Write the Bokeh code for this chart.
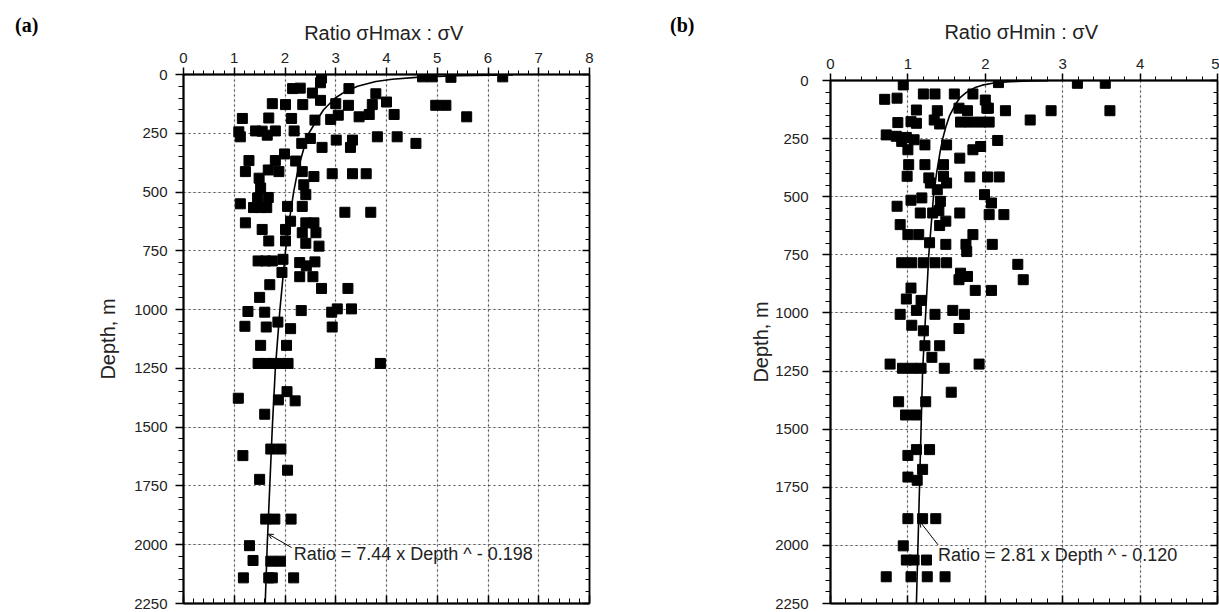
from bokeh.plotting import figure
from bokeh.models import (Range1d, LinearAxis, FixedTicker, Label, Arrow, OpenHead,
                          Grid, CustomJSTickFormatter, Div)
from bokeh.layouts import row
from bokeh.embed import file_html
from bokeh.resources import INLINE

# ---------------- data: panel (a)  sigma_Hmax : sigma_V ----------------
depth_a = [15, 35, 60, 58, 79, 110,
           10, 10, 12, 10,
           60, 82, 117,
           124, 128, 128, 124, 131, 128, 131, 131,
           187, 185, 187, 194, 191, 173, 180, 170, 170, 180,
           244, 240, 258, 240, 240, 265, 241,
           272, 293, 310, 279, 279, 310, 265, 265, 293,
           338, 366, 366, 368,
           413, 441, 406, 413, 413, 434, 422, 422, 422,
           483, 525, 523, 469, 511,
           550, 566, 566, 566, 561, 561, 586, 586,
           631, 659, 624, 631, 631, 673, 673, 659,
           708, 708, 718, 730,
           793, 793, 793, 786, 800, 814, 797,
           842, 860, 860, 894, 910, 910, 948,
           1008, 1011, 1004, 1011, 997, 997,
           1071, 1074, 1053, 1081, 1074,
           1152, 1152,
           1229, 1229, 1229, 1229, 1229, 1229,
           1377, 1349, 1384, 1388, 1445,
           1593, 1593, 1621, 1683, 1722,
           1891, 1891, 1891,
           2004, 2067, 2070, 2070,
           2141, 2141, 2141, 2141]
ratio_a = [2.72, 2.70, 2.15, 2.30, 2.54, 2.70,
           4.71, 4.90, 5.27, 6.29,
           3.26, 3.79, 4.00,
           1.75, 2.01, 2.35, 3.00, 3.25, 3.72, 4.97, 5.17,
           1.16, 1.68, 2.13, 2.59, 2.90, 3.05, 3.46, 3.66, 4.15, 5.58,
           1.09, 1.42, 1.65, 1.81, 2.18, 1.12, 1.55,
           2.50, 2.33, 2.73, 3.01, 3.33, 3.29, 3.82, 4.21, 4.58,
           1.99, 1.29, 1.81, 2.21,
           1.22, 1.49, 1.67, 1.88, 2.34, 2.57, 2.93, 3.33, 3.60,
           1.52, 1.46, 1.67, 2.37, 2.41,
           1.12, 1.38, 1.52, 1.64, 2.05, 2.34, 3.18, 3.69,
           1.22, 1.55, 2.11, 2.41, 2.57, 2.34, 2.61, 2.01,
           1.68, 2.01, 2.41, 2.67,
           1.47, 1.62, 1.75, 1.96, 2.29, 2.42, 2.59,
           1.94, 2.29, 2.55, 1.70, 2.72, 3.24, 1.50,
           1.27, 1.60, 2.32, 2.92, 3.03, 3.31,
           1.21, 1.63, 1.86, 2.11, 2.93,
           1.52, 2.03,
           1.47, 1.62, 1.77, 1.92, 2.06, 3.88,
           1.08, 2.04, 1.87, 2.20, 1.60,
           1.72, 1.92, 1.17, 2.05, 1.50,
           1.62, 1.80, 2.12,
           1.30, 1.37, 1.72, 1.91,
           1.18, 1.68, 1.75, 2.17]

# fitted curve (a)
curve_depth_a = [2, 5, 10, 20, 30, 50, 75, 100, 150, 200, 250, 300, 400, 500, 600,
                 750, 1000, 1250, 1500, 1750, 2000, 2250]
curve_ratio_a = [6.49, 5.41, 4.72, 4.11, 3.79, 3.43, 3.17, 2.99, 2.76, 2.61, 2.47, 2.39,
                 2.26, 2.17, 2.10, 2.01, 1.90, 1.81, 1.75, 1.70, 1.65, 1.61]

# ---------------- data: panel (b)  sigma_Hmin : sigma_V ----------------
depth_b = [19, 81, 76, 58, 58, 58, 58, 84, 119, 9, 12, 12,
           127, 130, 119, 130, 119, 130, 130, 130,
           181, 177, 184, 170, 187, 179, 179, 179, 179, 170,
           234, 240, 245, 255, 262,
           298, 277, 277, 334, 298, 284, 258,
           362, 362, 362,
           412, 419, 441, 412, 441, 415, 415, 415,
           515, 505, 470, 520, 560, 491, 541, 527,
           570, 570, 570, 577, 577,
           620, 663, 663, 624, 605, 663,
           698, 705, 705, 705,
           736,
           784, 784, 784, 784, 784, 791,
           829, 843, 857, 857,
           893, 903, 903,
           940, 946,
           1006, 989, 1006, 989, 1006,
           1053, 1077, 1067,
           1141, 1141, 1191,
           1220, 1238, 1238, 1238, 1238, 1220,
           1341, 1382, 1382, 1439, 1439,
           1613, 1588, 1588,
           1706, 1720, 1673,
           1885, 1885, 1885,
           2002, 2063, 2063, 2063,
           2135, 2135, 2135, 2135]
ratio_b = [0.94, 0.70, 0.86, 1.20, 1.35, 1.60, 1.84, 2.00, 2.02, 2.17, 3.19, 3.55,
           1.11, 1.38, 1.66, 1.77, 2.04, 2.26, 2.85, 3.61,
           0.87, 1.04, 1.11, 1.34, 1.41, 1.68, 1.80, 1.93, 2.05, 2.58,
           0.72, 0.85, 0.98, 1.08, 0.92,
           1.00, 1.22, 1.50, 1.67, 1.84, 1.94, 2.16,
           1.01, 1.22, 1.46,
           0.99, 1.27, 1.29, 1.46, 1.50, 1.80, 2.03, 2.18,
           1.04, 1.18, 1.38, 1.42, 1.40, 1.99, 0.86, 2.08,
           1.16, 1.32, 1.67, 2.05, 2.24,
           0.90, 1.00, 1.14, 1.41, 1.49, 1.84,
           1.28, 1.49, 1.75, 2.09,
           1.76,
           0.92, 1.05, 1.20, 1.35, 1.50, 2.42,
           1.68, 1.77, 1.66, 2.49,
           1.04, 1.87, 2.08,
           0.98, 1.17,
           0.90, 1.11, 1.35, 1.58, 1.73,
           1.05, 1.20, 1.66,
           1.22, 1.41, 1.31,
           0.77, 0.93, 1.05, 1.17, 1.47, 1.92,
           1.56, 0.88, 1.23, 0.97, 1.10,
           1.00, 1.11, 1.28,
           1.00, 1.12, 1.19,
           1.00, 1.19, 1.36,
           0.94, 0.98, 1.08, 1.24,
           0.72, 1.04, 1.25, 1.48]

curve_depth_b = [1, 2, 5, 10, 20, 30, 50, 75, 100, 150, 200, 250, 300, 400, 500,
                 750, 1000, 1250, 1500, 1750, 2000, 2250]
curve_ratio_b = [2.81, 2.59, 2.32, 2.13, 1.96, 1.87, 1.76, 1.67, 1.62, 1.54, 1.49, 1.45,
                 1.42, 1.37, 1.33, 1.27, 1.23, 1.19, 1.17, 1.15, 1.13, 1.11]

# ---------------- ticks / labels ----------------
ratio_ticks_a = [0, 1, 2, 3, 4, 5, 6, 7, 8]
ratio_ticks_b = [0, 1, 2, 3, 4, 5]
depth_ticks = [0, 250, 500, 750, 1000, 1250, 1500, 1750, 2000, 2250]
title_a = "Ratio  \u03c3Hmax : \u03c3V"
title_b = "Ratio  \u03c3Hmin : \u03c3V"
fit_a = "Ratio = 7.44 x Depth ^ - 0.198"
fit_b = "Ratio = 2.81 x Depth ^ - 0.120"
ylabel = "Depth, m"
letter_a = "(a)"
letter_b = "(b)"

FONT = "Liberation Sans"
TXT = "#222222"


def style_axis(ax, labels=True):
    ax.axis_line_color = "black"
    ax.axis_line_width = 2
    ax.major_tick_line_color = "black"
    ax.minor_tick_line_color = "black"
    ax.major_tick_line_width = 1.5
    ax.minor_tick_line_width = 1
    ax.major_label_text_font = FONT
    ax.major_label_text_font_size = "15px"
    ax.major_label_text_color = TXT
    ax.axis_label_text_font = FONT
    ax.axis_label_text_font_style = "normal"
    ax.axis_label_text_color = TXT
    if not labels:
        ax.formatter = CustomJSTickFormatter(code="return ''")
        ax.major_label_standoff = 0


def make_panel(xmax, ticks, title, depth, ratio, cdepth, cratio, width,
               left, right, top, bottom, lab_standoff, axlab_standoff, title_standoff):
    minor_x = [i * 0.2 for i in range(int(xmax * 5) + 1)]
    minor_y = list(range(0, 2251, 50))
    p = figure(width=width, height=612, x_range=Range1d(0, xmax),
               y_range=Range1d(2250, 0), x_axis_location=None, y_axis_location=None,
               output_backend="svg", toolbar_location=None,
               min_border_left=left, min_border_right=right,
               min_border_top=top, min_border_bottom=bottom)
    try:
        p.frame_align = False
    except Exception:
        pass
    p.background_fill_color = "white"
    p.border_fill_color = "white"
    p.outline_line_color = "black"
    p.outline_line_width = 1.5

    xt = FixedTicker(ticks=ticks, minor_ticks=minor_x)
    yt = FixedTicker(ticks=depth_ticks, minor_ticks=minor_y)

    gx = Grid(dimension=0, ticker=FixedTicker(ticks=ticks[1:-1]))
    gy = Grid(dimension=1, ticker=FixedTicker(ticks=depth_ticks[1:-1]))
    for g in (gx, gy):
        g.grid_line_color = "#555555"
        g.grid_line_dash = "2 3"
        g.grid_line_width = 1.2
        p.add_layout(g)

    top_ax = LinearAxis(ticker=xt, axis_label=title)
    style_axis(top_ax)
    top_ax.major_tick_out = 7
    top_ax.major_tick_in = 0
    top_ax.minor_tick_out = 4
    top_ax.minor_tick_in = 0
    top_ax.major_label_standoff = 5
    top_ax.axis_label_standoff = title_standoff
    top_ax.axis_label_text_font_size = "20px"
    p.add_layout(top_ax, "above")

    left_ax = LinearAxis(ticker=yt, axis_label=ylabel)
    style_axis(left_ax)
    left_ax.major_tick_out = 8
    left_ax.major_tick_in = 0
    left_ax.minor_tick_out = 5
    left_ax.minor_tick_in = 0
    left_ax.major_label_standoff = lab_standoff
    left_ax.axis_label_standoff = axlab_standoff
    left_ax.axis_label_text_font_size = "20px"
    p.add_layout(left_ax, "left")

    bot_ax = LinearAxis(ticker=xt)
    style_axis(bot_ax, labels=False)
    bot_ax.major_tick_in = 8
    bot_ax.major_tick_out = 0
    bot_ax.minor_tick_in = 5
    bot_ax.minor_tick_out = 0
    p.add_layout(bot_ax, "below")

    right_ax = LinearAxis(ticker=yt)
    style_axis(right_ax, labels=False)
    right_ax.major_tick_in = 7
    right_ax.major_tick_out = 0
    right_ax.minor_tick_in = 4
    right_ax.minor_tick_out = 0
    right_ax.axis_line_width = 1.5
    p.add_layout(right_ax, "right")

    p.line(cratio, cdepth, line_color="black", line_width=1.6)
    p.scatter(ratio, depth, marker="square", size=10, color="black")
    return p


p1 = make_panel(8, ratio_ticks_a, title_a, depth_a, ratio_a, curve_depth_a, curve_ratio_a,
                width=609, left=183, right=20, top=74, bottom=9,
                lab_standoff=8, axlab_standoff=12, title_standoff=6)
p2 = make_panel(5, ratio_ticks_b, title_b, depth_b, ratio_b, curve_depth_b, curve_ratio_b,
                width=610, left=221, right=2, top=80, bottom=9,
                lab_standoff=14, axlab_standoff=0, title_standoff=13)

# fit equations with leaders
p1.add_layout(Label(x=2.17, y=2040, text=fit_a, text_align="left", text_baseline="middle",
                    text_font=FONT, text_font_size="18px", text_color=TXT))
p1.add_layout(Arrow(x_start=2.13, y_start=2012, x_end=1.67, y_end=1955,
                    line_color="black", line_width=1,
                    end=OpenHead(size=5, line_color="black", line_width=1)))
p2.add_layout(Label(x=1.39, y=2040, text=fit_b, text_align="left", text_baseline="middle",
                    text_font=FONT, text_font_size="18px", text_color=TXT))
p2.add_layout(Arrow(x_start=1.39, y_start=1998, x_end=1.15, y_end=1895,
                    line_color="black", line_width=1,
                    end=OpenHead(size=6, line_color="black", line_width=1)))

# panel letters as absolutely positioned text
letter_style = {"position": "absolute", "font-family": "Liberation Serif",
                "font-weight": "bold", "font-size": "20px", "color": "black",
                "line-height": "20px", "z-index": "10"}
div_a = Div(text=letter_a, styles=dict(letter_style, left="10px", top="10px"))
div_b = Div(text=letter_b, styles=dict(letter_style, left="665px", top="10px"))

layout = row(p1, p2, div_a, div_b, spacing=0)
open("out.html", "w").write(file_html(layout, INLINE))
